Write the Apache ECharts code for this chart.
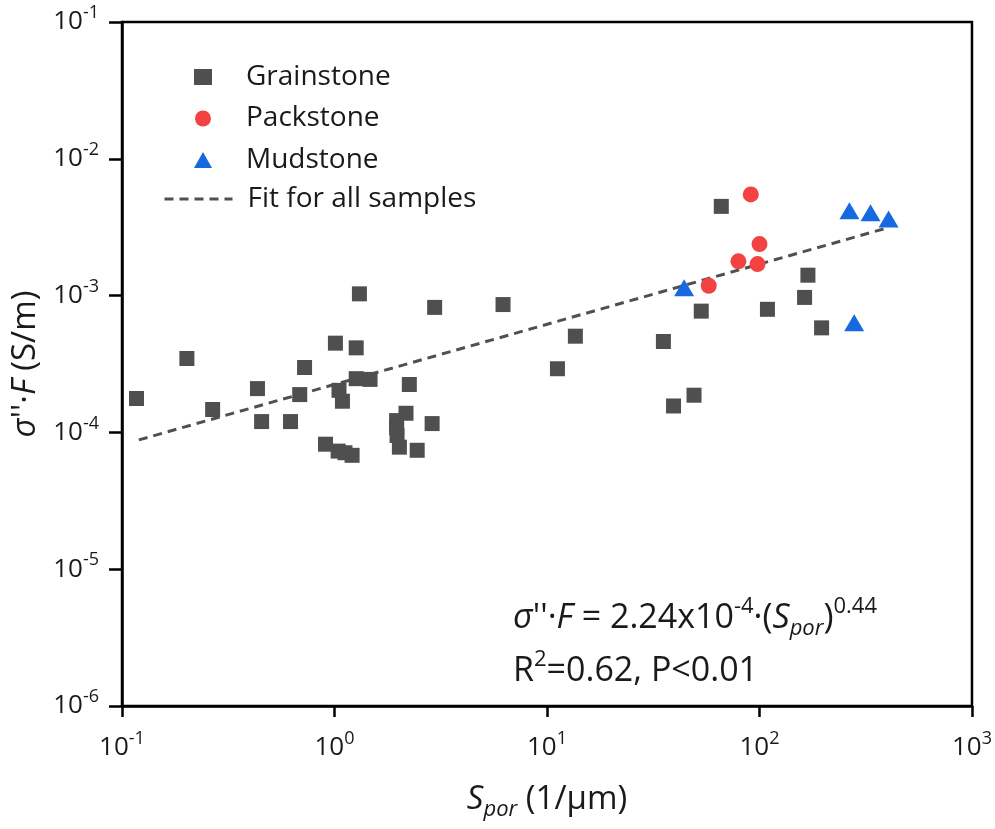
<!DOCTYPE html>
<html>
<head>
<meta charset="utf-8">
<script src="https://cdn.jsdelivr.net/npm/echarts@6/dist/echarts.min.js"></script>
<style>
  html, body { margin: 0; padding: 0; background: #fff; }
  #chart { width: 995px; height: 829px; }
</style>
</head>
<body>
<div id="chart"></div>
<script>
// Pore-surface area vs. normalized imaginary conductivity, by lithology
const grainstone = [
  [0.117, 1.77e-4], [0.202, 3.47e-4], [0.267, 1.47e-4], [0.434, 2.09e-4],
  [0.454, 1.20e-4], [0.621, 1.20e-4], [0.686, 1.89e-4], [0.723, 2.98e-4],
  [0.907, 8.2e-5], [1.01, 4.49e-4], [1.05, 2.03e-4], [1.09, 1.69e-4],
  [1.04, 7.3e-5], [1.12, 7.1e-5], [1.21, 6.8e-5], [1.265, 4.15e-4],
  [1.31, 1.03e-3], [1.265, 2.47e-4], [1.47, 2.44e-4], [2.25, 2.24e-4],
  [2.96, 8.2e-4], [2.17, 1.38e-4], [1.96, 1.22e-4], [1.96, 1.08e-4],
  [1.97, 9.5e-5], [2.02, 7.8e-5], [2.45, 7.4e-5], [2.88, 1.16e-4],
  [6.21, 8.6e-4], [13.6, 5.05e-4], [11.2, 2.92e-4], [35.3, 4.62e-4],
  [53.2, 7.7e-4], [39.4, 1.56e-4], [49.2, 1.87e-4], [66.1, 4.49e-3],
  [109, 7.94e-4], [163, 9.7e-4], [169, 1.41e-3], [196, 5.81e-4]
];
const packstone = [
  [57.7, 1.18e-3], [91.0, 5.49e-3], [100, 2.38e-3], [79.6, 1.78e-3], [97.9, 1.70e-3]
];
const mudstone = [
  [44.2, 1.14e-3], [265, 4.17e-3], [333, 4.04e-3], [405, 3.63e-3], [279, 6.32e-4]
];

// Power-law fit: sigma''F = a * Spor^b, drawn over the sampled Spor range
const fitA = 2.24e-4;
const fitB = 0.44;
const fitRange = [0.12, 400];
const fitLine = fitRange.map(x => [x, fitA * Math.pow(x, fitB)]);

const xTicks = [0.1, 1, 10, 100, 1000];
const yTicks = [1e-6, 1e-5, 1e-4, 1e-3, 1e-2, 1e-1];

const FONT = '"Open Sans", "Noto Sans", sans-serif';
const TXT = '#1a1a1a';
const GREY = '#4f4f4f';
const FIT_STYLE = { color: '#505050', width: 3, type: [9, 6] };

function powLabel(v) {
  const e = Math.round(Math.log10(v));
  return '{b|10}{s|' + e + '}';
}
const tickRich = {
  b: { fontSize: 26, lineHeight: 36, fontFamily: FONT, color: TXT },
  s: { fontSize: 18, lineHeight: 18, verticalAlign: 'top', fontFamily: FONT, color: TXT }
};
const legendText = { fontSize: 28, fontFamily: FONT, color: TXT };

const chart = echarts.init(document.getElementById('chart'), null, { renderer: 'canvas' });

chart.setOption({
  animation: false,
  backgroundColor: '#fff',
  grid: {
    left: 122, right: 21, top: 22, bottom: 123,
    show: true, borderColor: '#000', borderWidth: 2.5, backgroundColor: 'transparent'
  },
  legend: [
    {
      orient: 'vertical', left: 194, top: 63, padding: 0,
      itemWidth: 18, itemHeight: 16, itemGap: 13.5,
      textStyle: Object.assign({ padding: [0, 0, 0, 29] }, legendText),
      data: ['Grainstone', 'Packstone', 'Mudstone']
    },
    {
      orient: 'vertical', left: 163, top: 185, padding: 0,
      itemWidth: 68, itemHeight: 16,
      lineStyle: FIT_STYLE,
      textStyle: Object.assign({ padding: [0, 0, 0, 10] }, legendText),
      data: [{ name: 'Fit for all samples', itemStyle: { opacity: 0 } }]
    }
  ],
  xAxis: {
    type: 'log', logBase: 10, min: xTicks[0], max: xTicks[xTicks.length - 1],
    splitLine: { show: false },
    minorTick: { show: false },
    axisLine: { lineStyle: { color: '#000', width: 2.5 } },
    axisTick: { inside: false, length: 11, lineStyle: { color: '#000', width: 2.5 } },
    axisLabel: { margin: 24, formatter: powLabel, rich: tickRich },
    name: '{i|S}{sub|por}{n| (1/μm)}',
    nameLocation: 'middle', nameGap: 73,
    nameTextStyle: {
      rich: {
        i: { fontSize: 33, lineHeight: 42, fontStyle: 'italic', fontFamily: FONT, color: TXT },
        sub: { fontSize: 22, lineHeight: 22, verticalAlign: 'bottom', fontStyle: 'italic', fontFamily: FONT, color: TXT },
        n: { fontSize: 33, lineHeight: 42, fontFamily: FONT, color: TXT }
      }
    }
  },
  yAxis: {
    type: 'log', logBase: 10, min: yTicks[0], max: yTicks[yTicks.length - 1],
    splitLine: { show: false },
    minorTick: { show: false },
    axisLine: { lineStyle: { color: '#000', width: 2.5 } },
    axisTick: { inside: false, length: 13, lineStyle: { color: '#000', width: 2.5 } },
    axisLabel: { margin: 23, formatter: powLabel, rich: tickRich },
    name: "{i|σ}{n|''·}{i|F}{n| (S/m)}",
    nameLocation: 'middle', nameGap: 62, nameRotate: 90,
    nameTextStyle: {
      rich: {
        i: { fontSize: 33, lineHeight: 42, fontStyle: 'italic', fontFamily: FONT, color: TXT },
        n: { fontSize: 33, lineHeight: 42, fontFamily: FONT, color: TXT }
      }
    }
  },
  series: [
    {
      name: 'Fit for all samples', type: 'line', data: fitLine,
      symbol: 'none', silent: true, z: 1,
      itemStyle: { color: '#505050' },
      lineStyle: FIT_STYLE
    },
    {
      name: 'Grainstone', type: 'scatter', data: grainstone,
      symbol: 'rect', symbolSize: 15, z: 2,
      itemStyle: { color: GREY, opacity: 1 }
    },
    {
      name: 'Packstone', type: 'scatter', data: packstone,
      symbol: 'circle', symbolSize: 16, z: 3,
      itemStyle: { color: '#f24242', opacity: 1 }
    },
    {
      name: 'Mudstone', type: 'scatter', data: mudstone,
      symbol: 'triangle', symbolSize: [20, 17], z: 4,
      itemStyle: { color: '#1769e0', opacity: 1 }
    }
  ],
  graphic: [
    {
      type: 'text', left: 513, top: 596,
      style: {
        text: "{i|σ}{n|''·}{i|F}{n| = 2.24x10}{s|-4}{n|·(}{i|S}{sub|por}{n|)}{s|0.44}",
        rich: {
          i: { fontSize: 34, lineHeight: 44, fontStyle: 'italic', fontFamily: FONT, fill: TXT },
          n: { fontSize: 34, lineHeight: 44, fontFamily: FONT, fill: TXT },
          s: { fontSize: 22, lineHeight: 22, verticalAlign: 'top', fontFamily: FONT, fill: TXT },
          sub: { fontSize: 22, lineHeight: 22, verticalAlign: 'bottom', fontStyle: 'italic', fontFamily: FONT, fill: TXT }
        }
      }
    },
    {
      type: 'text', left: 513, top: 649,
      style: {
        text: '{n|R}{s|2}{n|=0.62, P<0.01}',
        rich: {
          n: { fontSize: 34, lineHeight: 44, fontFamily: FONT, fill: TXT },
          s: { fontSize: 22, lineHeight: 22, verticalAlign: 'top', fontFamily: FONT, fill: TXT }
        }
      }
    }
  ]
});
</script>
</body>
</html>
